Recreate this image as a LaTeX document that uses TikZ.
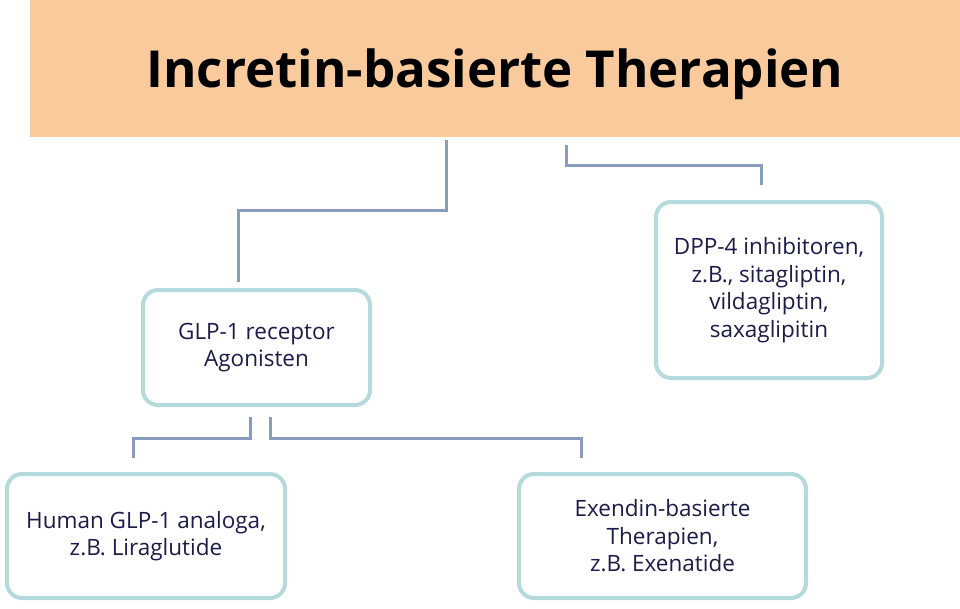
\documentclass[tikz,border=0pt]{standalone}
\usepackage{fontspec}
\setmainfont{Open Sans}
\definecolor{peach}{HTML}{F9CB9C}
\definecolor{boxline}{HTML}{B4DADB}
\definecolor{conn}{HTML}{8A9CBE}
\definecolor{txt}{HTML}{1C1C4A}
\tikzset{
  item/.style={draw=boxline, line width=4pt, rounded corners=15pt, fill=white,
    align=center, text=txt, font=\fontsize{22.5}{27.5}\selectfont, outer sep=0pt, inner sep=0pt},
  link/.style={draw=conn, line width=3pt}
}
\begin{document}
\begin{tikzpicture}[x=1pt,y=-1pt]
\useasboundingbox (0,0) rectangle (960,608);
\node[fill=peach, minimum width=930pt, minimum height=137pt, outer sep=0pt, inner sep=0pt,
  text depth=0pt, font=\bfseries\fontsize{51}{56}\selectfont] (title) at (495,68.5) {Incretin-basierte Therapien};
\node[item, minimum width=227pt, minimum height=115pt] (glp) at (256.5,347.5) {GLP-1 receptor\\Agonisten};
\node[item, minimum width=226pt, minimum height=176pt] (dpp) at (769,290) {DPP-4 inhibitoren,\\z.B., sitagliptin,\\vildagliptin,\\saxaglipitin};
\node[item, minimum width=278pt, minimum height=124pt] (human) at (146,536) {Human GLP-1 analoga,\\z.B. Liraglutide};
\node[item, minimum width=287pt, minimum height=124pt] (exe) at (662.5,536) {Exendin-basierte\\Therapien,\\z.B. Exenatide};
\draw[link] ([shift={(-49,3)}]title.south) -- ++(0,70) -| ([shift={(-18.5,-8)}]glp.north);
\draw[link] ([shift={(71,8)}]title.south) -- ++(0,20) -| ([shift={(-8,-17)}]dpp.north);
\draw[link] ([shift={(-6,12)}]glp.south) -- ++(0,21) -| ([shift={(-13,-16)}]human.north);
\draw[link] ([shift={(13.5,12)}]glp.south) -- ++(0,21) -| ([shift={(-81.5,-16)}]exe.north);
\end{tikzpicture}
\end{document}
